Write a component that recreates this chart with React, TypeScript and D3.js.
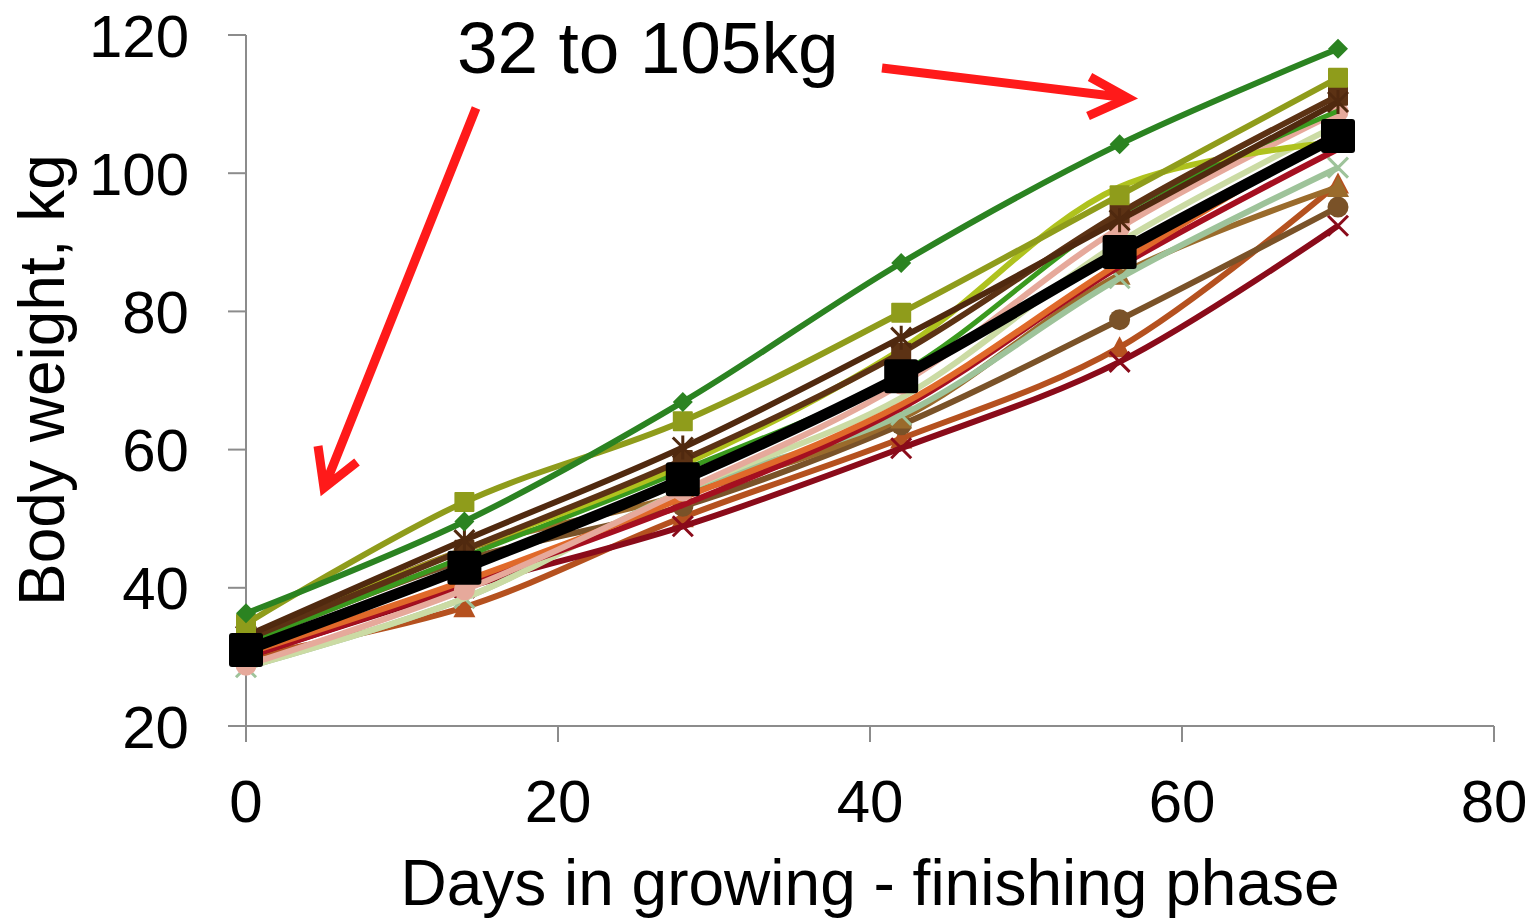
import { useRef, useEffect } from "react";
import * as d3 from "d3";

// days on test
const days = [0, 14, 28, 42, 56, 70];

// body weight per group, kg
const greenDiamond = [36.3, 49.6, 66.9, 87, 104.2, 118];
const oliveSquare = [34.8, 52.4, 64.1, 79.8, 96.8, 113.8];
const brownStar = [33, 46.9, 60.3, 76.2, 93.2, 110.3];
const brownSquare = [32.5, 45.5, 58.5, 74, 94.2, 111.2];
const limeLine = [33, 45.5, 57.8, 74.5, 98, 104.5];
const brightGreen = [32, 44.5, 57, 71, 94, 109];
const pinkCircle = [28.8, 39.7, 54, 69.5, 92.1, 108.9];
const orangeLine = [30.5, 41, 53, 66.5, 87, 106];
const crimsonLine = [30, 40.5, 52, 66, 86.5, 103.5];
const paleLine = [28.5, 38.5, 54, 67.5, 90, 107];
const sageCross = [28.5, 38.5, 54, 65, 84.8, 100.8];
const tanTriangle = [32, 45.5, 53.5, 64.5, 85.3, 98];
const brownCircle = [32, 44, 51.8, 63.6, 78.8, 95.1];
const rustTriangle = [30, 37.2, 50.2, 61.6, 74.8, 98.5];
const darkRedCross = [30, 40, 48.9, 60.2, 72.7, 92.4];
const average = [31, 42.9, 55.7, 70.6, 88.6, 105.4];

const xTicks = [0, 20, 40, 60, 80];
const yTicks = [20, 40, 60, 80, 100, 120];

type Series = { values: number[]; color: string; marker: string; size: number; width: number };

const series: Series[] = [
  { values: rustTriangle, color: "#b5511f", marker: "triangle", size: 20, width: 6 },
  { values: darkRedCross, color: "#8a0b1a", marker: "cross", size: 20, width: 6 },
  { values: brownCircle, color: "#7a5228", marker: "circle", size: 21, width: 6 },
  { values: tanTriangle, color: "#9a6b2c", marker: "triangle", size: 20, width: 6 },
  { values: sageCross, color: "#9ec39a", marker: "cross", size: 20, width: 6 },
  { values: paleLine, color: "#cbdba4", marker: "none", size: 0, width: 6 },
  { values: crimsonLine, color: "#a50f20", marker: "none", size: 0, width: 6 },
  { values: orangeLine, color: "#e0692a", marker: "none", size: 0, width: 6 },
  { values: pinkCircle, color: "#e6a99b", marker: "circle", size: 21, width: 6 },
  { values: brightGreen, color: "#3a9a1e", marker: "none", size: 0, width: 5 },
  { values: limeLine, color: "#afc21e", marker: "none", size: 0, width: 6 },
  { values: brownSquare, color: "#5c3214", marker: "square", size: 20, width: 6 },
  { values: brownStar, color: "#50290f", marker: "star", size: 20, width: 6 },
  { values: oliveSquare, color: "#8f9c1b", marker: "square", size: 20, width: 6 },
  { values: greenDiamond, color: "#2b8321", marker: "diamond", size: 16, width: 6 },
  { values: average, color: "#000000", marker: "square", size: 34, width: 11 },
];

export default function App() {
  const ref = useRef<SVGSVGElement>(null);

  useEffect(() => {
    if (!ref.current) return;
    const svg = d3.select(ref.current);
    svg.selectAll("*").remove();

    const x = d3.scaleLinear().domain([0, 80]).range([246, 1494]);
    const y = d3.scaleLinear().domain([20, 120]).range([726, 35]);
    const font = "Liberation Sans, Arial, sans-serif";
    const axisColor = "#8c8c8c";

    // axes
    svg.append("line").attr("x1", 246).attr("x2", 246).attr("y1", y(120)).attr("y2", 742)
      .attr("stroke", axisColor).attr("stroke-width", 2);
    svg.append("line").attr("x1", 228).attr("x2", 1494).attr("y1", y(20)).attr("y2", y(20))
      .attr("stroke", axisColor).attr("stroke-width", 2);

    yTicks.forEach((t) => {
      svg.append("line").attr("x1", 228).attr("x2", 246).attr("y1", y(t)).attr("y2", y(t))
        .attr("stroke", axisColor).attr("stroke-width", 2);
      svg.append("text").attr("x", 189).attr("y", y(t)).attr("dy", "0.36em")
        .attr("text-anchor", "end").attr("font-family", font).attr("font-size", 60)
        .text(t);
    });
    xTicks.forEach((t) => {
      svg.append("line").attr("x1", x(t)).attr("x2", x(t)).attr("y1", y(20)).attr("y2", 742)
        .attr("stroke", axisColor).attr("stroke-width", 2);
      svg.append("text").attr("x", x(t)).attr("y", 822)
        .attr("text-anchor", "middle").attr("font-family", font).attr("font-size", 60)
        .text(t);
    });

    svg.append("text").attr("x", 870).attr("y", 905).attr("text-anchor", "middle")
      .attr("font-family", font).attr("font-size", 64).text("Days in growing - finishing phase");
    svg.append("text").attr("transform", "translate(64,380) rotate(-90)").attr("text-anchor", "middle")
      .attr("font-family", font).attr("font-size", 64).text("Body weight, kg");

    // lines
    const line = d3.line<number>()
      .x((_, i) => x(days[i]))
      .y((d) => y(d))
      .curve(d3.curveCatmullRom.alpha(0.5));

    series.forEach((s) => {
      svg.append("path").attr("d", line(s.values)).attr("fill", "none")
        .attr("stroke", s.color).attr("stroke-width", s.width).attr("stroke-linejoin", "round");

      const g = svg.append("g");
      s.values.forEach((v, i) => {
        const cx = x(days[i]);
        const cy = y(v);
        const h = s.size / 2;
        if (s.marker === "square") {
          g.append("rect").attr("x", cx - h).attr("y", cy - h).attr("width", s.size).attr("height", s.size)
            .attr("rx", s.size > 20 ? 3 : 1).attr("fill", s.color);
        } else if (s.marker === "diamond") {
          g.append("path").attr("d", `M${cx},${cy - h - 2}L${cx + h + 2},${cy}L${cx},${cy + h + 2}L${cx - h - 2},${cy}Z`)
            .attr("fill", s.color);
        } else if (s.marker === "circle") {
          g.append("circle").attr("cx", cx).attr("cy", cy).attr("r", h).attr("fill", s.color);
        } else if (s.marker === "triangle") {
          g.append("path").attr("d", `M${cx},${cy - h - 1}L${cx + h + 1},${cy + h}L${cx - h - 1},${cy + h}Z`)
            .attr("fill", s.color);
        } else if (s.marker === "cross") {
          g.append("path").attr("d", `M${cx - h},${cy - h}L${cx + h},${cy + h}M${cx - h},${cy + h}L${cx + h},${cy - h}`)
            .attr("stroke", s.color).attr("stroke-width", 3);
        } else if (s.marker === "star") {
          g.append("path").attr("d",
            `M${cx - h},${cy - h}L${cx + h},${cy + h}M${cx - h},${cy + h}L${cx + h},${cy - h}M${cx},${cy - h - 2}L${cx},${cy + h + 2}`)
            .attr("stroke", s.color).attr("stroke-width", 3);
        }
      });
    });

    // annotation
    svg.append("text").attr("x", 457).attr("y", 73).attr("font-family", font).attr("font-size", 73)
      .text("32 to 105kg");

    const red = "#ff1a1a";
    svg.append("path").attr("d", "M882,68L1128,98M1090,77L1128,98L1088,116")
      .attr("fill", "none").attr("stroke", red).attr("stroke-width", 9).attr("stroke-linejoin", "miter");
    svg.append("path").attr("d", "M476,108L324,488M318,446L324,488L357,462")
      .attr("fill", "none").attr("stroke", red).attr("stroke-width", 9).attr("stroke-linejoin", "miter");
  }, []);

  return (
    <svg
      ref={ref}
      width={1539}
      height={919}
      style={{ position: "absolute", left: 0, top: 0, background: "#fff" }}
    />
  );
}
